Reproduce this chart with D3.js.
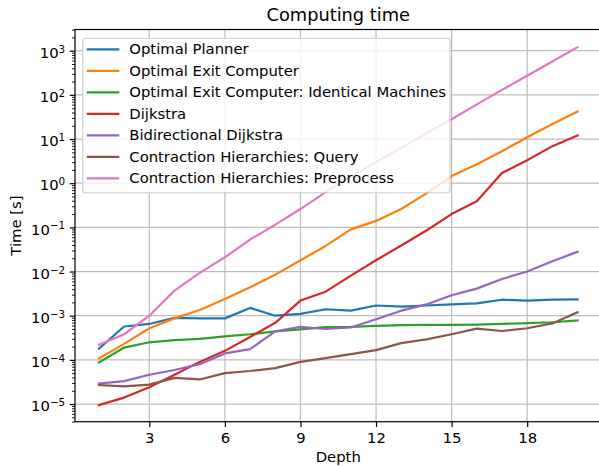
<!DOCTYPE html>
<html>
<head>
<meta charset="utf-8">
<script src="https://cdn.jsdelivr.net/npm/d3@7"></script>
<style>
  body { margin: 0; background: #fff; }
  svg text { font-family: "DejaVu Sans", sans-serif; fill: #000; }
</style>
</head>
<body>
<div id="chart"></div>
<script>
var width = 599;
var height = 466;

var depths = [1,2,3,4,5,6,7,8,9,10,11,12,13,14,15,16,17,18,19,20];

var optimalPlanner = [1.8e-4,5.7e-4,6.5e-4,8.9e-4,8.7e-4,8.7e-4,1.5e-3,1.0e-3,1.1e-3,1.4e-3,
                      1.3e-3,1.7e-3,1.6e-3,1.7e-3,1.8e-3,1.9e-3,2.3e-3,2.2e-3,2.3e-3,2.35e-3];
var optimalExit = [1.07e-4,2.3e-4,5.2e-4,8.7e-4,1.35e-3,2.4e-3,4.4e-3,8.5e-3,1.8e-2,3.8e-2,
                   0.09,0.14,0.26,0.59,1.45,2.7,5.3,11,22,42];
var optimalExitIdentical = [8.7e-5,1.9e-4,2.5e-4,2.8e-4,3.0e-4,3.4e-4,3.8e-4,4.4e-4,4.9e-4,5.5e-4,
                            5.6e-4,5.9e-4,6.1e-4,6.2e-4,6.2e-4,6.3e-4,6.5e-4,6.8e-4,7.1e-4,7.8e-4];
var dijkstra = [9.5e-6,1.4e-5,2.4e-5,4.6e-5,9.0e-5,1.6e-4,3.3e-4,6.9e-4,2.2e-3,3.5e-3,
                8.1e-3,1.8e-2,3.9e-2,0.085,0.2,0.39,1.7,3.3,6.9,12];
var bidirectional = [2.9e-5,3.3e-5,4.6e-5,5.9e-5,8.0e-5,1.4e-4,1.75e-4,4.4e-4,5.6e-4,5.0e-4,
                     5.4e-4,8.3e-4,1.3e-3,1.8e-3,2.9e-3,4.1e-3,6.8e-3,1.0e-2,1.7e-2,2.8e-2];
var chQuery = [2.7e-5,2.5e-5,2.75e-5,3.9e-5,3.6e-5,5.0e-5,5.6e-5,6.5e-5,9.0e-5,1.1e-4,
               1.35e-4,1.66e-4,2.4e-4,2.9e-4,3.8e-4,5.1e-4,4.5e-4,5.2e-4,6.7e-4,1.2e-3];
var chPreprocess = [2.2e-4,3.8e-4,1.0e-3,3.7e-3,9.3e-3,2.1e-2,5.3e-2,0.115,0.26,0.63,
                    1.4,3.0,6.3,13.5,28,61,130,270,570,1200];

var seriesNames = ["Optimal Planner","Optimal Exit Computer","Optimal Exit Computer: Identical Machines",
                   "Dijkstra","Bidirectional Dijkstra","Contraction Hierarchies: Query",
                   "Contraction Hierarchies: Preprocess"];
var seriesValues = [optimalPlanner, optimalExit, optimalExitIdentical, dijkstra, bidirectional, chQuery, chPreprocess];
var colors = ["#1f77b4","#ff7f0e","#2ca02c","#d62728","#9467bd","#8c564b","#e377c2"];

var xTicks = [3,6,9,12,15,18];
var yExponents = [-5,-4,-3,-2,-1,0,1,2,3];

// axes box (right edge falls just outside the picture, as in the reference)
var plotLeft = 75, plotRight = 601.5, plotTop = 29.5, plotBottom = 421.7;
var fontSize = "14.8px";

var svg = d3.select("#chart")
   .append("svg")
   .attr("width", width)
   .attr("height", height);

var x = d3.scaleLinear().domain([0.05, 20.95]).range([plotLeft, plotRight]);
var y = d3.scaleLog().domain([Math.pow(10,-5.40), Math.pow(10,3.48)]).range([plotBottom, plotTop]);

// grid
svg.append("g")
   .selectAll("line")
   .data(xTicks)
   .enter().append("line")
   .attr("x1", function(d){ return x(d); })
   .attr("x2", function(d){ return x(d); })
   .attr("y1", plotTop).attr("y2", plotBottom)
   .attr("stroke","#bdbdbd").attr("stroke-width",1.2);

svg.append("g")
   .selectAll("line")
   .data(yExponents)
   .enter().append("line")
   .attr("x1", plotLeft).attr("x2", plotRight)
   .attr("y1", function(d){ return y(Math.pow(10,d)); })
   .attr("y2", function(d){ return y(Math.pow(10,d)); })
   .attr("stroke","#bdbdbd").attr("stroke-width",1.2);

// lines
var line = d3.line()
   .x(function(d,i){ return x(depths[i]); })
   .y(function(d){ return y(d); });

svg.append("clipPath").attr("id","plotclip")
   .append("rect").attr("x",plotLeft).attr("y",plotTop)
   .attr("width",plotRight-plotLeft).attr("height",plotBottom-plotTop);

svg.append("g")
   .attr("clip-path","url(#plotclip)")
   .selectAll("path")
   .data(seriesValues)
   .enter().append("path")
   .attr("d", line)
   .attr("fill","none")
   .attr("stroke", function(d,i){ return colors[i]; })
   .attr("stroke-width",2.2)
   .attr("stroke-linejoin","round")
   .attr("stroke-linecap","square");

// x axis
var xAxis = svg.append("g")
   .attr("transform","translate(0," + plotBottom + ")")
   .call(d3.axisBottom(x).tickValues(xTicks).tickSize(5.2).tickPadding(5.2).tickFormat(d3.format("d")));
xAxis.select(".domain").remove();
xAxis.selectAll("line").attr("stroke","#000").attr("stroke-width",1.2);
xAxis.selectAll("text").attr("font-size",fontSize).attr("font-family","DejaVu Sans");

// y axis, major
var yAxis = svg.append("g")
   .attr("transform","translate(" + plotLeft + ",0)")
   .call(d3.axisLeft(y).tickValues(yExponents.map(function(e){ return Math.pow(10,e); }))
      .tickSize(5.2).tickPadding(4.6).tickFormat(""));
yAxis.select(".domain").remove();
yAxis.selectAll("line").attr("stroke","#000").attr("stroke-width",1.2);
yAxis.selectAll(".tick text")
   .attr("font-size",fontSize)
   .attr("font-family","DejaVu Sans")
   .attr("dy","0.45em")
   .each(function(d){
      var t = d3.select(this);
      var e = Math.round(Math.log10(d));
      t.append("tspan").text("10");
      t.append("tspan").attr("dy","-0.5em").attr("font-size","10.4px")
       .text(e < 0 ? "\u2212" + (-e) : "" + e);
   });

// y axis, minor
var minors = [];
for (var e = -6; e <= 3; e++) {
   for (var m = 2; m <= 9; m++) {
      var v = m * Math.pow(10,e);
      if (v >= y.domain()[0] && v <= y.domain()[1]) minors.push(v);
   }
}
var yMinor = svg.append("g")
   .attr("transform","translate(" + plotLeft + ",0)")
   .call(d3.axisLeft(y).tickValues(minors).tickSize(3).tickFormat(""));
yMinor.select(".domain").remove();
yMinor.selectAll("line").attr("stroke","#000").attr("stroke-width",0.9);

// spines
svg.append("rect")
   .attr("x",plotLeft).attr("y",plotTop).attr("width",plotRight-plotLeft).attr("height",plotBottom-plotTop)
   .attr("fill","none").attr("stroke","#000").attr("stroke-width",1.2);

// labels
svg.append("text")
   .attr("x",(plotLeft+plotRight)/2).attr("y",21)
   .attr("text-anchor","middle").attr("font-size","17.8px")
   .text("Computing time");

svg.append("text")
   .attr("x",(plotLeft+plotRight)/2).attr("y",461.5)
   .attr("text-anchor","middle").attr("font-size",fontSize)
   .text("Depth");

svg.append("text")
   .attr("transform","translate(20.5," + ((plotTop+plotBottom)/2) + ") rotate(-90)")
   .attr("text-anchor","middle").attr("font-size",fontSize)
   .text("Time [s]");

// legend
var legend = svg.append("g");
legend.append("rect")
   .attr("x",82.7).attr("y",38.3).attr("width",367.3).attr("height",154.4)
   .attr("rx",3).attr("ry",3)
   .attr("fill","#fff").attr("fill-opacity",0.8)
   .attr("stroke","#cccccc").attr("stroke-width",1.1);

var entries = legend.selectAll("g.entry")
   .data(seriesNames)
   .enter().append("g")
   .attr("class","entry")
   .attr("transform", function(d,i){ return "translate(0," + (49.3 + i*21.5) + ")"; });

entries.append("line")
   .attr("x1",86.7).attr("x2",119.3)
   .attr("stroke", function(d,i){ return colors[i]; })
   .attr("stroke-width",2.2);

entries.append("text")
   .attr("x",129.3).attr("dy","0.35em")
   .attr("font-size",fontSize)
   .text(function(d){ return d; });
</script>
</body>
</html>
